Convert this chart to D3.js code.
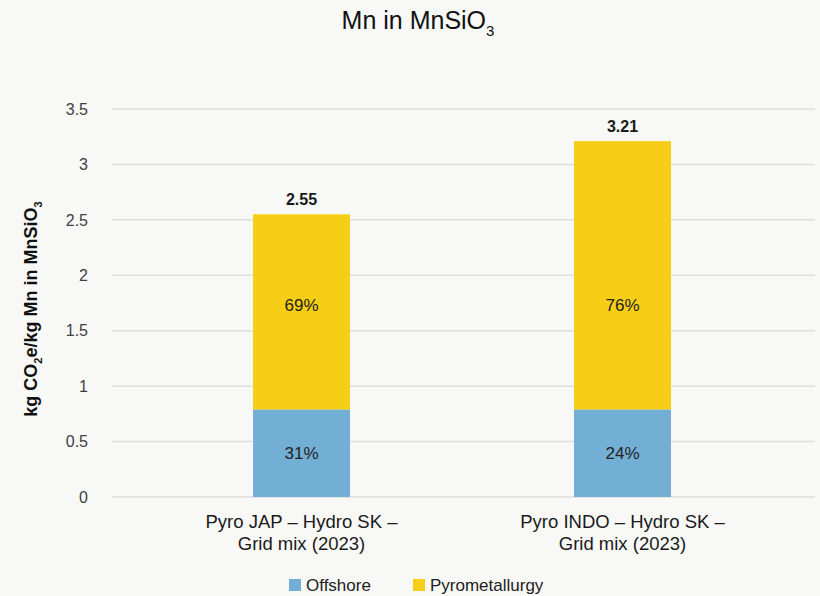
<!DOCTYPE html>
<html>
<head>
<meta charset="utf-8">
<script src="https://cdn.jsdelivr.net/npm/d3@7"></script>
<style>
  body { margin: 0; background: #f8f8f6; }
  svg { font-family: "Liberation Sans", Arial, Helvetica, sans-serif; }
</style>
</head>
<body>
<svg id="chart" width="820" height="596"></svg>
<script>
var categories = [
    ["Pyro JAP \u2013 Hydro SK \u2013", "Grid mix (2023)"],
    ["Pyro INDO \u2013 Hydro SK \u2013", "Grid mix (2023)"]
];
var seriesNames = ["Offshore", "Pyrometallurgy"];
var offshore = [0.79, 0.79];
var pyrometallurgy = [1.76, 2.42];
var totals = ["2.55", "3.21"];
var offshorePct = ["31%", "24%"];
var pyroPct = ["69%", "76%"];
var yTicks = [0, 0.5, 1, 1.5, 2, 2.5, 3, 3.5];

var colors = ["#73afd4", "#f6ce15"];

var width = 820, height = 596;
var svg = d3.select("#chart");

svg.append("rect").attr("width", width).attr("height", height).attr("fill", "#f8f8f6");

var gridLeft = 112, gridRight = 815;
var y = d3.scaleLinear().domain([0, 3.5]).range([497, 109]);
var x = d3.scaleBand().domain([0, 1]).range([141, 783]).paddingInner(0.698).paddingOuter(0.349);

// gridlines
svg.selectAll(".grid")
    .data(yTicks)
    .enter().append("line")
    .attr("x1", gridLeft).attr("x2", gridRight)
    .attr("y1", d => y(d)).attr("y2", d => y(d))
    .style("stroke", "#dedede")
    .style("stroke-width", 1.5);

// tick labels
svg.selectAll(".tick")
    .data(yTicks)
    .enter().append("text")
    .attr("x", 88)
    .attr("y", d => y(d))
    .attr("dy", "0.36em")
    .attr("text-anchor", "end")
    .style("font-size", "16px")
    .style("fill", "#404040")
    .text(d => d);

// stacked bars
var rows = categories.map((c, i) => ({ i: i, values: [offshore[i], pyrometallurgy[i]] }));
rows.forEach(function(r) {
    var base = 0;
    r.values.forEach(function(v, k) {
        svg.append("rect")
            .attr("x", x(r.i))
            .attr("width", x.bandwidth())
            .attr("y", y(base + v))
            .attr("height", y(base) - y(base + v))
            .attr("fill", colors[k]);
        // pyro labels sit at the same height in both bars, like the original
        var ly = k === 0 ? y(base + v / 2) : y(1.73);
        svg.append("text")
            .attr("x", x(r.i) + x.bandwidth() / 2)
            .attr("y", ly)
            .attr("dy", "0.36em")
            .attr("text-anchor", "middle")
            .style("font-size", "17px")
            .style("fill", "#222")
            .text(k === 0 ? offshorePct[r.i] : pyroPct[r.i]);
        base += v;
    });
    svg.append("text")
        .attr("x", x(r.i) + x.bandwidth() / 2)
        .attr("y", y(base) - 9)
        .attr("text-anchor", "middle")
        .style("font-size", "16px")
        .style("font-weight", "bold")
        .style("fill", "#1a1a1a")
        .text(totals[r.i]);
});

// category labels
categories.forEach(function(lines, i) {
    var t = svg.append("text")
        .attr("text-anchor", "middle")
        .style("font-size", "18.5px")
        .style("fill", "#1a1a1a");
    lines.forEach(function(line, j) {
        t.append("tspan")
            .attr("x", x(i) + x.bandwidth() / 2)
            .attr("y", 528 + j * 22)
            .text(line);
    });
});

// title
var title = svg.append("text")
    .attr("x", 418).attr("y", 29)
    .attr("text-anchor", "middle")
    .style("font-size", "25px")
    .style("fill", "#111");
title.append("tspan").text("Mn in MnSiO");
title.append("tspan").attr("dy", 7).style("font-size", "15px").text("3");

// y axis label
var ylab = svg.append("text")
    .attr("transform", "translate(37,309) rotate(-90)")
    .attr("text-anchor", "middle")
    .style("font-size", "18px")
    .style("font-weight", "bold")
    .style("fill", "#111");
ylab.append("tspan").text("kg CO");
ylab.append("tspan").attr("dy", 5).style("font-size", "11px").text("2");
ylab.append("tspan").attr("dy", -5).text("e/kg Mn in MnSiO");
ylab.append("tspan").attr("dy", 5).style("font-size", "11px").text("3");

// legend
var legendX = [289, 413];
seriesNames.forEach(function(name, k) {
    svg.append("rect")
        .attr("x", legendX[k]).attr("y", 579)
        .attr("width", 12).attr("height", 12)
        .attr("fill", colors[k]);
    svg.append("text")
        .attr("x", legendX[k] + 17).attr("y", 591)
        .style("font-size", "17px")
        .style("fill", "#222")
        .text(name);
});
</script>
</body>
</html>
